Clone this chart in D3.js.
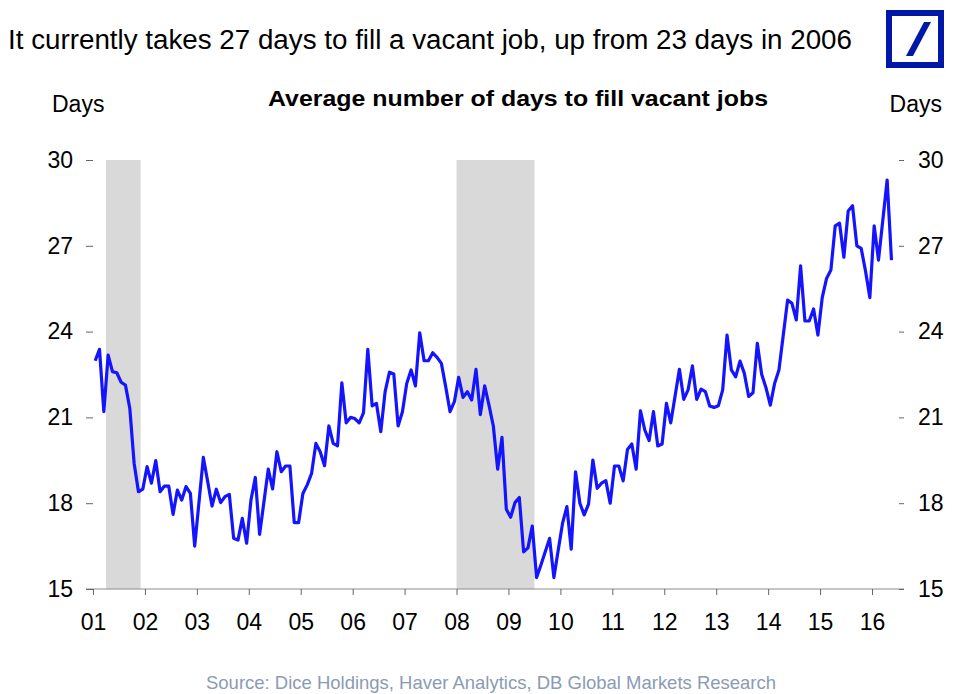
<!DOCTYPE html>
<html>
<head>
<meta charset="utf-8">
<script src="https://cdn.jsdelivr.net/npm/d3@7"></script>
<style>
  body { margin: 0; background: #fff; }
  svg { display: block; font-family: "Liberation Sans", Arial, Helvetica, sans-serif; }
</style>
</head>
<body>
<svg id="chart" width="960" height="694"></svg>
<script>
// ---- Data ----
const startYear = 2001;           // first observation: Jan 2001, monthly
const daysToFill = [
  22.98, 23.38, 21.2, 23.18, 22.6, 22.56, 22.23, 22.13, 21.32, 19.4, 18.4, 18.49,
  19.28, 18.7, 19.49, 18.4, 18.6, 18.6, 17.61, 18.46, 18.11, 18.58, 18.34, 16.5,
  18.05, 19.6, 18.76, 17.9, 18.49, 18.02, 18.23, 18.31, 16.77, 16.71, 17.47, 16.6,
  18.11, 18.9, 16.91, 18.05, 19.19, 18.5, 19.8, 19.1, 19.3, 19.3, 17.32, 17.32,
  18.34, 18.64, 19.04, 20.09, 19.8, 19.31, 20.7, 20.09, 20.01, 22.21, 20.81, 21.0,
  20.96, 20.81, 21.16, 23.38, 21.4, 21.49, 20.5, 21.9, 22.58, 22.52, 20.7, 21.2,
  22.19, 22.66, 22.1, 23.96, 22.98, 22.98, 23.26, 23.1, 22.89, 22.07, 21.2, 21.55,
  22.4, 21.7, 21.9, 21.61, 22.68, 21.1, 22.1, 21.43, 20.7, 19.19, 20.3, 17.79,
  17.51, 18.02, 18.2, 16.3, 16.44, 17.2, 15.4, 15.84, 16.3, 16.77, 15.4, 16.36,
  17.3, 17.88, 16.39, 19.1, 18.0, 17.59, 17.97, 19.51, 18.52, 18.7, 18.79, 18.0,
  19.3, 19.3, 18.78, 19.88, 20.07, 19.19, 21.23, 20.56, 20.19, 21.2, 20.0, 20.07,
  21.49, 20.81, 21.75, 22.68, 21.63, 21.96, 22.8, 21.63, 21.99, 21.9, 21.4, 21.35,
  21.41, 21.96, 23.88, 22.66, 22.42, 22.97, 22.54, 21.73, 21.86, 23.59, 22.51, 22.04,
  21.43, 22.19, 22.66, 23.88, 25.1, 24.99, 24.41, 26.3, 24.37, 24.37, 24.79, 23.88,
  25.19, 25.86, 26.15, 27.7, 27.79, 26.6, 28.22, 28.4, 27.0, 26.91, 26.12, 25.19,
  27.7, 26.5, 27.9, 29.3, 26.5
];
// recessions as [start, end] in decimal years
const recessionStart = [2001.25, 2008.0];
const recessionEnd   = [2001.917, 2009.5];
const xTickYears = d3.range(2001, 2017);
const xTickLabels = ["01","02","03","04","05","06","07","08","09","10","11","12","13","14","15","16"];
const yTicks = [15, 18, 21, 24, 27, 30];

const titleText = "It currently takes 27 days to fill a vacant job, up from 23 days in 2006";
const subtitleText = "Average number of days to fill vacant jobs";
const unitText = "Days";
const sourceText = "Source: Dice Holdings, Haver Analytics, DB Global Markets Research";

// ---- Layout ----
const svg = d3.select("#chart");
const plotLeft = 93, plotRight = 899, plotTop = 160, plotBottom = 589;

const x = d3.scaleLinear().domain([2001, 2016]).range([93, 872]);
const y = d3.scaleLinear().domain([15, 30]).range([plotBottom, plotTop]);

const series = daysToFill.map((v, i) => ({ t: startYear + (i + 0.5) / 12, v }));

// recession shading
svg.append("g").selectAll("rect")
  .data(recessionStart.map((s, i) => [s, recessionEnd[i]]))
  .join("rect")
  .attr("x", d => x(d[0]))
  .attr("width", d => x(d[1]) - x(d[0]))
  .attr("y", y(30))
  .attr("height", y(15) - y(30))
  .attr("fill", "#d9d9d9");

// x axis baseline
svg.append("line")
  .attr("x1", plotLeft - 7).attr("x2", plotRight + 5)
  .attr("y1", y(15)).attr("y2", y(15))
  .attr("stroke", "#8c8c8c").attr("stroke-width", 1.2);

// x axis
const xAxis = svg.append("g")
  .attr("transform", `translate(0,${y(15)})`)
  .call(d3.axisBottom(x).tickValues(xTickYears)
    .tickFormat((d, i) => xTickLabels[i]).tickSize(6).tickSizeOuter(0).tickPadding(19));
xAxis.select(".domain").remove();
xAxis.selectAll(".tick line").attr("stroke", "#666");
xAxis.selectAll("text").attr("font-size", 23).attr("fill", "#000")
  .attr("font-family", "'Liberation Sans', Arial, sans-serif");

// left y axis
const yl = svg.append("g").attr("transform", `translate(${plotLeft},0)`)
  .call(d3.axisLeft(y).tickValues(yTicks).tickSize(7).tickPadding(13));
yl.select(".domain").remove();
yl.selectAll(".tick line").attr("stroke", "#666");
yl.selectAll("text").attr("font-size", 23).attr("fill", "#000")
  .attr("font-family", "'Liberation Sans', Arial, sans-serif");

// right y axis
const yr = svg.append("g").attr("transform", `translate(${plotRight},0)`)
  .call(d3.axisRight(y).tickValues(yTicks).tickSize(5).tickPadding(14));
yr.select(".domain").remove();
yr.selectAll(".tick line").attr("stroke", "#666");
yr.selectAll("text").attr("font-size", 23).attr("fill", "#000")
  .attr("font-family", "'Liberation Sans', Arial, sans-serif");

// line
svg.append("path")
  .datum(series)
  .attr("fill", "none")
  .attr("stroke", "#1414ff")
  .attr("stroke-width", 3.2)
  .attr("stroke-linejoin", "round")
  .attr("d", d3.line().x(d => x(d.t)).y(d => y(d.v)));

// texts
svg.append("text").attr("x", 8).attr("y", 49)
  .attr("font-size", 27).attr("fill", "#000")
  .attr("textLength", 844).attr("lengthAdjust", "spacingAndGlyphs").text(titleText);
svg.append("text").attr("x", 268).attr("y", 106)
  .attr("font-size", 22).attr("font-weight", "bold").attr("fill", "#000")
  .attr("textLength", 500).attr("lengthAdjust", "spacingAndGlyphs").text(subtitleText);
svg.append("text").attr("x", 52).attr("y", 112)
  .attr("font-size", 23).attr("fill", "#000").text(unitText);
svg.append("text").attr("x", 942).attr("y", 112).attr("text-anchor", "end")
  .attr("font-size", 23).attr("fill", "#000").text(unitText);
svg.append("text").attr("x", 206).attr("y", 689)
  .attr("font-size", 18.5).attr("fill", "#8a9bb3")
  .attr("textLength", 570).attr("lengthAdjust", "spacingAndGlyphs").text(sourceText);

// logo
const logo = svg.append("g").attr("transform", "translate(886,10)");
logo.append("rect").attr("x", 3).attr("y", 3).attr("width", 52).attr("height", 52)
  .attr("fill", "#fff").attr("stroke", "#0018a8").attr("stroke-width", 6);
logo.append("polygon").attr("points", "38,12 45,12 27,46 20,46").attr("fill", "#0018a8");
</script>
</body>
</html>
